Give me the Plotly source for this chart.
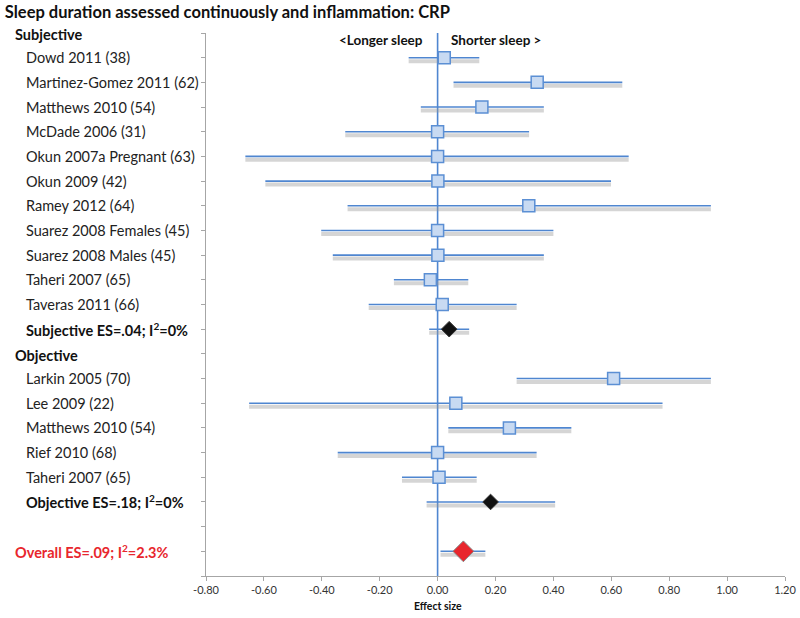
import plotly.graph_objects as go

# ---- data ----
labels = [
    "Subjective", "Dowd 2011 (38)", "Martinez-Gomez 2011 (62)", "Matthews 2010 (54)",
    "McDade 2006 (31)", "Okun 2007a Pregnant (63)", "Okun 2009 (42)", "Ramey 2012 (64)",
    "Suarez 2008 Females (45)", "Suarez 2008 Males (45)", "Taheri 2007 (65)", "Taveras 2011 (66)",
    "Subjective ES=.04; I<sup>2</sup>=0%", "Objective", "Larkin 2005 (70)", "Lee 2009 (22)",
    "Matthews 2010 (54)", "Rief 2010 (68)", "Taheri 2007 (65)",
    "Objective ES=.18; I<sup>2</sup>=0%", "", "Overall ES=.09; I<sup>2</sup>=2.3%",
]
kinds = ["header", "study", "study", "study", "study", "study", "study", "study", "study",
         "study", "study", "study", "pooled", "header", "study", "study", "study", "study",
         "study", "pooled", "blank", "overall"]
est = [None, 0.023, 0.344, 0.153, 0.0, 0.0, 0.001, 0.315, 0.0, 0.001, -0.025, 0.016, 0.040,
       None, 0.608, 0.063, 0.248, 0.0, 0.005, 0.183, None, 0.089]
lo = [None, -0.100, 0.055, -0.058, -0.319, -0.664, -0.595, -0.311, -0.402, -0.362, -0.151,
      -0.238, -0.029, None, 0.273, -0.651, 0.037, -0.345, -0.123, -0.038, None, 0.010]
hi = [None, 0.144, 0.638, 0.367, 0.316, 0.660, 0.599, 0.944, 0.400, 0.367, 0.106, 0.273,
      0.109, None, 0.944, 0.777, 0.462, 0.342, 0.135, 0.406, None, 0.165]
x_ticks = [-0.8, -0.6, -0.4, -0.2, 0.0, 0.2, 0.4, 0.6, 0.8, 1.0, 1.2]
x_ticklabels = ["-0.80", "-0.60", "-0.40", "-0.20", "0.00", "0.20", "0.40", "0.60", "0.80", "1.00", "1.20"]

FONT = "Lato"
BLUE = "#4f86d0"
rows = list(range(len(labels)))

fig = go.Figure()

# shadows of CI lines
sx, sy = [], []
for i in rows:
    if lo[i] is not None:
        sx += [lo[i], hi[i], None]
        sy += [i + 0.14, i + 0.14, None]
fig.add_trace(go.Scatter(x=sx, y=sy, mode="lines", line=dict(color="rgba(150,150,150,0.4)", width=4),
                         hoverinfo="skip", showlegend=False))

# CI lines
lx, ly = [], []
for i in rows:
    if lo[i] is not None:
        lx += [lo[i], hi[i], None]
        ly += [i, i, None]
fig.add_trace(go.Scatter(x=lx, y=ly, mode="lines", line=dict(color=BLUE, width=1.6),
                         hoverinfo="skip", showlegend=False))

# zero line
fig.add_shape(type="line", x0=0, x1=0, y0=0, y1=1, xref="x", yref="paper",
              line=dict(color=BLUE, width=1.6), layer="below")

# study squares
s_idx = [i for i in rows if kinds[i] == "study"]
fig.add_trace(go.Scatter(x=[est[i] for i in s_idx], y=s_idx, mode="markers",
                         marker=dict(symbol="square", size=12, color="#c8daf2",
                                     line=dict(color="#5b8fd4", width=1.5)),
                         showlegend=False))
# pooled diamonds
p_idx = [i for i in rows if kinds[i] == "pooled"]
fig.add_trace(go.Scatter(x=[est[i] for i in p_idx], y=p_idx, mode="markers",
                         marker=dict(symbol="diamond", size=12, color="#111111",
                                     line=dict(color="#333333", width=1)),
                         showlegend=False))
o_idx = [i for i in rows if kinds[i] == "overall"]
fig.add_trace(go.Scatter(x=[est[i] for i in o_idx], y=o_idx, mode="markers",
                         marker=dict(symbol="diamond", size=16, color="#e8262d",
                                     line=dict(color="#888888", width=1)),
                         showlegend=False))

# row labels
for i in rows:
    if not labels[i]:
        continue
    k = kinds[i]
    if k == "header":
        txt, shift, col, yy = "<b>%s</b>" % labels[i], -193, "#111111", i + 0.08
    elif k == "overall":
        txt, shift, col, yy = "<b>%s</b>" % labels[i], -193, "#e8262d", i
    elif k == "pooled":
        txt, shift, col, yy = "<b>%s</b>" % labels[i], -182, "#111111", i
    else:
        txt, shift, col, yy = labels[i], -182, "#222222", i
    fig.add_annotation(x=0, xref="paper", y=yy, yref="y", text=txt, showarrow=False,
                       xanchor="left", yanchor="middle", xshift=shift,
                       font=dict(family=FONT, size=14.5, color=col))

# direction labels
fig.add_annotation(x=0, y=0.3, xref="x", yref="y", text="<b>&lt;Longer sleep</b>", showarrow=False,
                   xanchor="right", xshift=-13, font=dict(family=FONT, size=13.5, color="#111111"))
fig.add_annotation(x=0, y=0.3, xref="x", yref="y", text="<b>Shorter sleep &gt;</b>", showarrow=False,
                   xanchor="left", xshift=11, font=dict(family=FONT, size=13.5, color="#111111"))

# x-axis title
fig.add_annotation(x=0, y=0, xref="x", yref="paper", text="<b>Effect size</b>", showarrow=False,
                   yanchor="top", yshift=-22, font=dict(family=FONT, size=10.5, color="#111111"))

fig.update_layout(
    width=800, height=618,
    margin=dict(l=206, r=15, t=33, b=42, autoexpand=False),
    paper_bgcolor="white", plot_bgcolor="white",
    title=dict(text="<b>Sleep duration assessed continuously and inflammation: CRP</b>",
               x=0.006, xanchor="left", y=0.98, yanchor="middle",
               font=dict(family=FONT, size=16.5, color="#111111")),
    xaxis=dict(range=[-0.8, 1.2], tickvals=x_ticks, ticktext=x_ticklabels, showgrid=False,
               zeroline=False, showline=True, linecolor="#a6a6a6", linewidth=1,
               ticks="outside", ticklen=4, tickcolor="#a6a6a6", automargin=False,
               tickfont=dict(family=FONT, size=11, color="#333333")),
    yaxis=dict(range=[22, 0], tickmode="linear", tick0=0, dtick=1, showticklabels=False,
               showgrid=False, zeroline=False, showline=True, linecolor="#a6a6a6", linewidth=1,
               ticks="outside", ticklen=4, tickcolor="#a6a6a6", automargin=False),
)

fig.write_html("out.html", config={"displayModeBar": False},
               post_script="document.body.style.margin='0';document.body.style.overflow='hidden';")
